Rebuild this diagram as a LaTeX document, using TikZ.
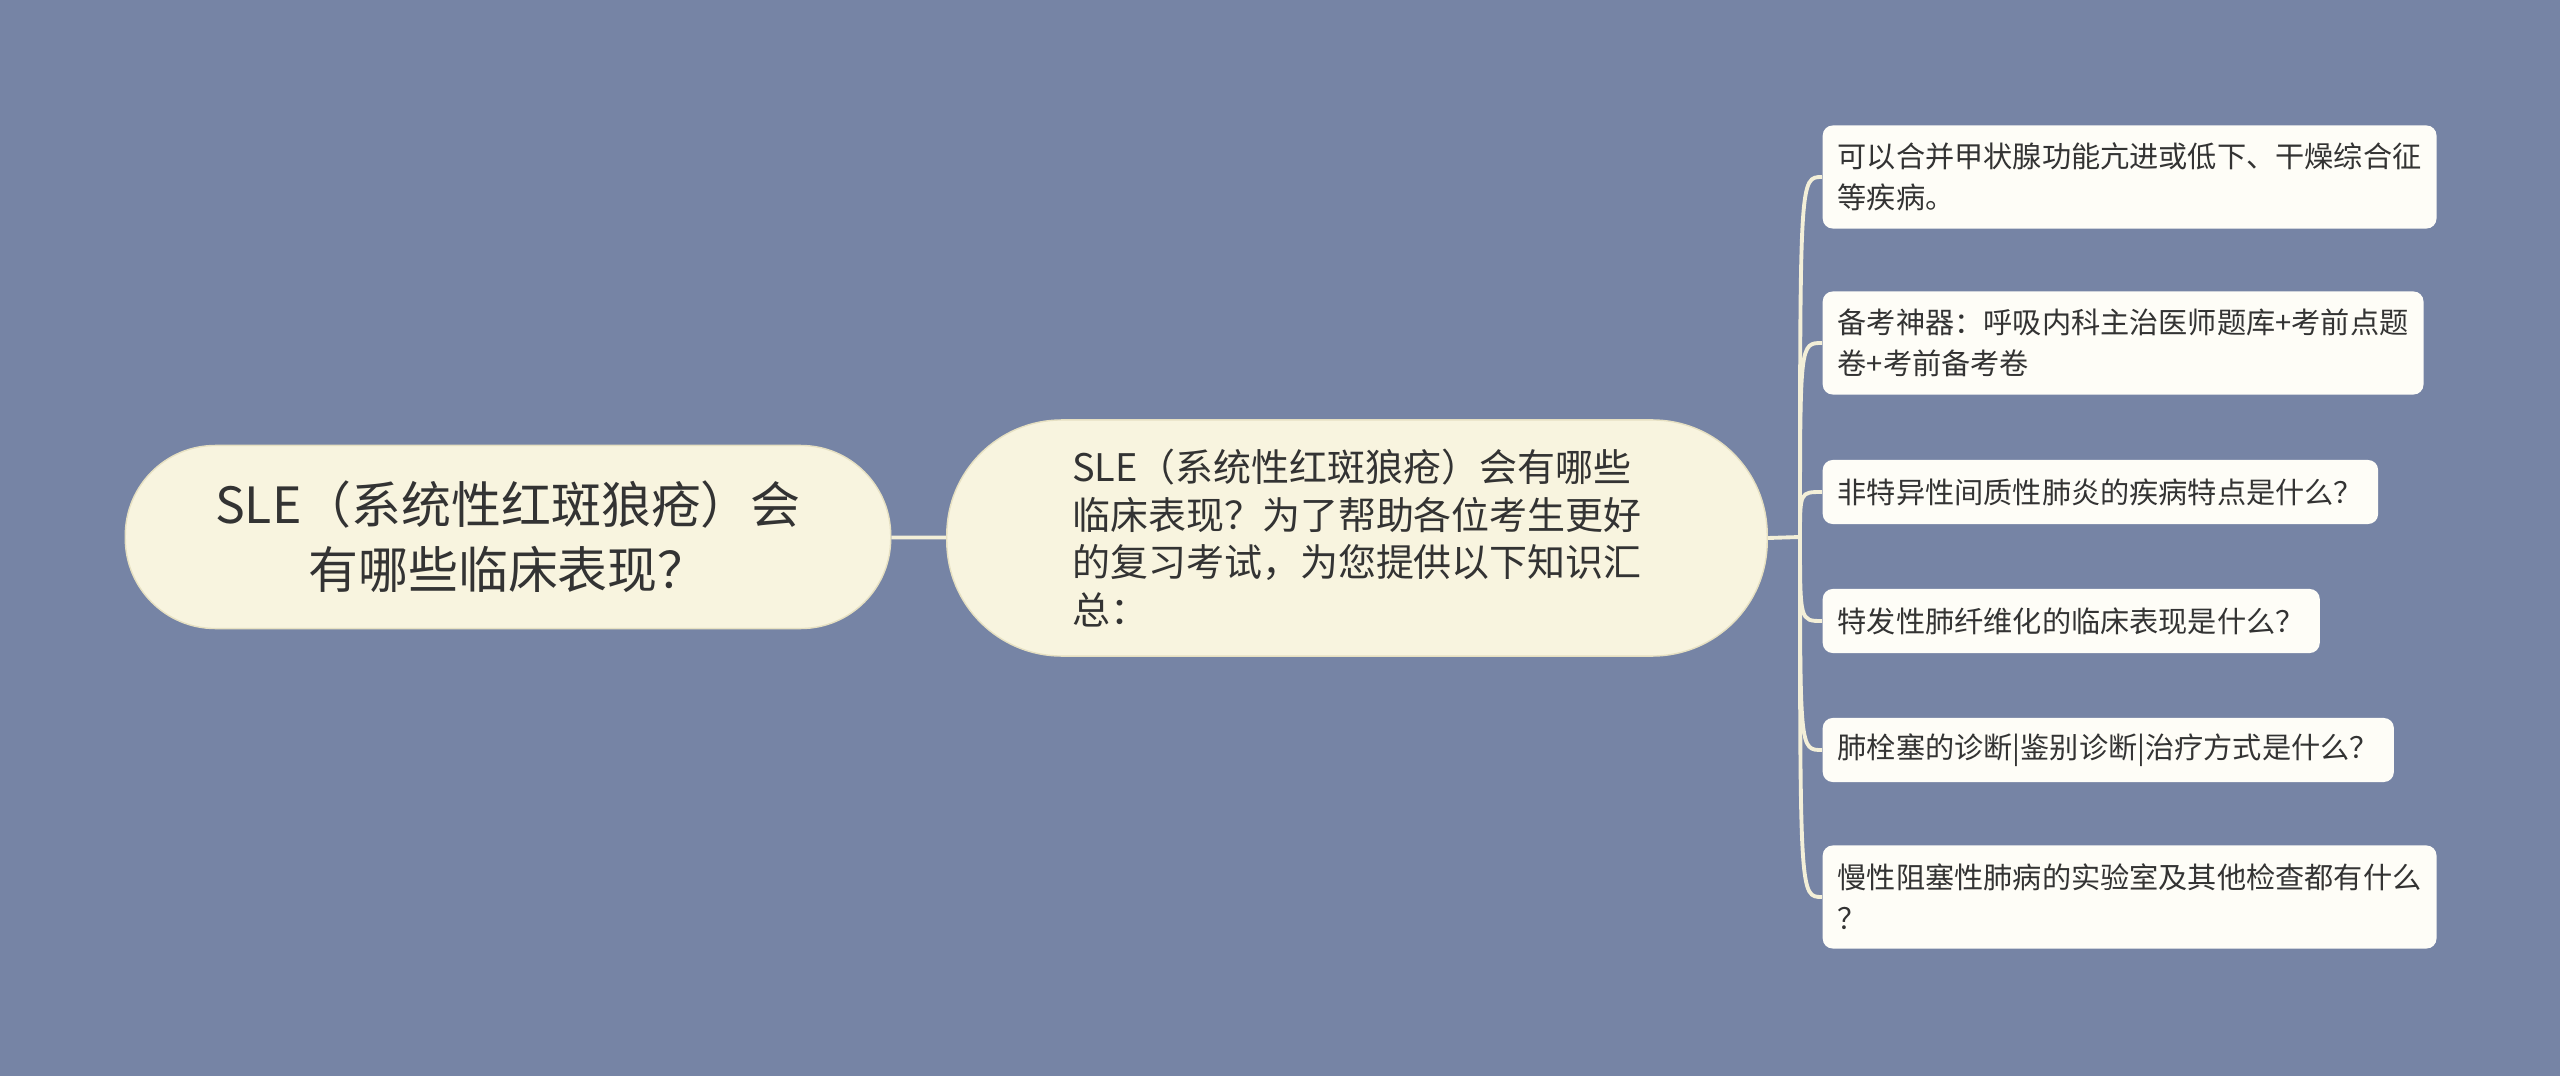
\documentclass[tikz,border=0pt]{standalone}
\usepackage{fontspec}
\newfontfamily\cjk{Noto Sans CJK SC}
\usetikzlibrary{positioning}
\definecolor{bgBlue}{HTML}{7684A5}
\definecolor{capCream}{HTML}{F8F4DF}
\definecolor{capEdge}{HTML}{E6E0C2}
\definecolor{leafWhite}{HTML}{FEFDF7}
\definecolor{lineCream}{HTML}{F3EFD8}
\definecolor{inkGray}{HTML}{333333}

\begin{document}
\begin{tikzpicture}[x=0.01cm,y=-0.01cm,
	rootbox/.style={fill=capCream,draw=capEdge,rounded corners=0.9cm,minimum width=7.65cm,minimum height=1.83cm,align=center,text=inkGray,font=\cjk\fontsize{14.2}{18.5}\selectfont},
	midbox/.style={fill=capCream,draw=capEdge,rounded corners=1.15cm,minimum width=8.2cm,minimum height=2.36cm,align=left,text=inkGray,font=\cjk\fontsize{10.8}{13.5}\selectfont},
	leafbox/.style={fill=leafWhite,rounded corners=0.1cm,anchor=west,inner xsep=0.15cm,minimum height=0.64cm,align=left,text=inkGray,font=\cjk\fontsize{8.3}{11.6}\selectfont},
	branch/.style={draw=lineCream,line width=1.1pt}]
		% background
		\fill[bgBlue] (0,0) rectangle (2560,1076);
		\useasboundingbox (0,0) rectangle (2560,1076);
		% main topic
		\node[rootbox] (root) at (508,537) {SLE（系统性红斑狼疮）会\\有哪些临床表现？};
		\node[midbox] (mid) at (1357,538) {SLE（系统性红斑狼疮）会有哪些\\临床表现？为了帮助各位考生更好\\的复习考试，为您提供以下知识汇\\总：};
		\coordinate (hub) at (1800,537);
		% leaves
		\node[leafbox,minimum height=1.03cm] (l1) at (1822,177) {可以合并甲状腺功能亢进或低下、干燥综合征\\等疾病。};
		\node[leafbox,minimum height=1.03cm] (l2) at (1822,343) {备考神器：呼吸内科主治医师题库+考前点题\\卷+考前备考卷};
		\node[leafbox] (l3) at (1822,492) {非特异性间质性肺炎的疾病特点是什么？};
		\node[leafbox] (l4) at (1822,621) {特发性肺纤维化的临床表现是什么？};
		\node[leafbox] (l5) at (1822,750) {肺栓塞的诊断|鉴别诊断|治疗方式是什么？};
		\node[leafbox,minimum height=1.03cm] (l6) at (1822,897) {慢性阻塞性肺病的实验室及其他检查都有什么\\？};
		% connectors
		\draw[branch] (root) -- (mid);
		\draw[branch] (mid.east) -- (hub);
		\foreach \leaf in {l1,l2,l3,l4,l5,l6}
			\draw[branch] (hub) .. controls (hub |- \leaf.west) and (hub |- \leaf.west) .. (\leaf.west);
\end{tikzpicture}
\end{document}
